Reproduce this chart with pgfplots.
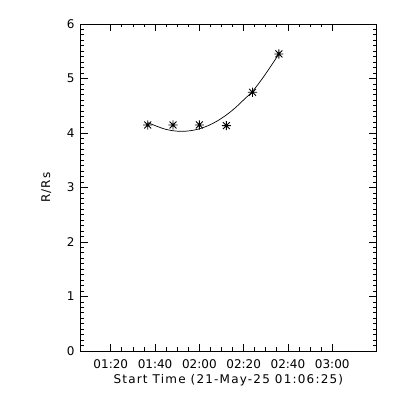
\documentclass[border=0pt]{standalone}
\usepackage{fontspec}
\setmainfont{DejaVu Sans}
\newfontfamily\widefont[LetterSpace=10]{DejaVu Sans}
\usepackage{pgfplots}
\pgfplotsset{compat=1.18}
\pgfdeclareplotmark{star8}{%
  \pgfpathmoveto{\pgfqpoint{-\pgfplotmarksize}{0pt}}%
  \pgfpathlineto{\pgfqpoint{\pgfplotmarksize}{0pt}}%
  \pgfpathmoveto{\pgfqpoint{0pt}{-\pgfplotmarksize}}%
  \pgfpathlineto{\pgfqpoint{0pt}{\pgfplotmarksize}}%
  \pgfpathmoveto{\pgfqpoint{-0.75\pgfplotmarksize}{-0.75\pgfplotmarksize}}%
  \pgfpathlineto{\pgfqpoint{0.75\pgfplotmarksize}{0.75\pgfplotmarksize}}%
  \pgfpathmoveto{\pgfqpoint{-0.75\pgfplotmarksize}{0.75\pgfplotmarksize}}%
  \pgfpathlineto{\pgfqpoint{0.75\pgfplotmarksize}{-0.75\pgfplotmarksize}}%
  \pgfusepathqstroke
  \pgfpathcircle{\pgfpointorigin}{0.3\pgfplotmarksize}\pgfusepathqfill
}
\begin{document}
\begin{tikzpicture}
\useasboundingbox (0,0) rectangle (400bp,400bp);
\begin{axis}[
  at={(80.7bp,49bp)}, anchor=south west,
  scale only axis, width=295.3bp, height=327bp,
  xmin=6.4167, xmax=139.75, ymin=0, ymax=6,
  xtick={20,40,60,80,100,120},
  xticklabels={01:20,01:40,02:00,02:20,02:40,03:00},
  ytick={0,1,2,3,4,5,6},
  minor x tick num=3, minor y tick num=9,
  tick align=inside,
  major tick length=7bp, minor tick length=3.5bp,
  axis line style={line width=0.8bp},
  every tick/.style={line width=0.8bp, black},
  /pgf/number format/assume math mode=true,
  tick label style={font=\fontsize{12bp}{14bp}\selectfont},
  xticklabel style={anchor=center, yshift=-13bp},
  yticklabel style={anchor=east, inner sep=0pt, xshift=-6bp},
  xlabel={Start Time (21-May-25 01:06:25)},
  ylabel={R/Rs},
  label style={font=\fontsize{12bp}{14bp}\selectfont},
  xlabel style={at={(axis description cs:0.5,-0.0887)}, anchor=center, font=\widefont\fontsize{12bp}{14bp}\selectfont},
  ylabel style={at={(axis description cs:-0.1168,0.5)}, anchor=center, font=\widefont\fontsize{12bp}{14bp}\selectfont},
]
\addplot[black, line width=0.7bp, smooth] coordinates {
  (36.7,4.19) (40,4.136) (44,4.077) (48,4.042) (52,4.030) (56,4.042)
  (60,4.077) (64,4.136) (68,4.219) (72,4.325) (76,4.455) (80,4.608)
  (84,4.765) (88,4.975) (92,5.209) (95.9,5.45)
};
\addplot[black, only marks, mark=star8, mark size=4.6bp, line width=0.9bp] coordinates {
  (36.7,4.147) (48.1,4.147) (60.0,4.147) (72.2,4.135) (84.0,4.747) (95.9,5.45)
};
\end{axis}
\end{tikzpicture}
\end{document}
